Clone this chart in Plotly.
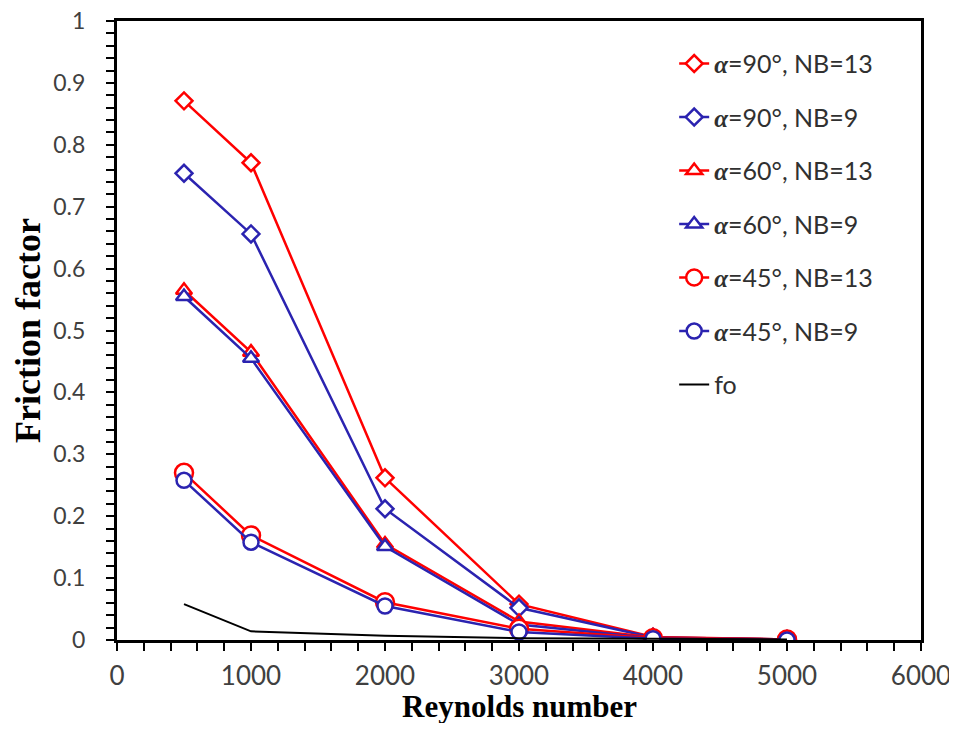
import plotly.graph_objects as go

reynolds = [500, 1000, 2000, 3000, 4000, 5000]

f_90_13 = [0.871, 0.771, 0.262, 0.058, 0.005, 0.001]
f_90_9 = [0.754, 0.656, 0.212, 0.052, 0.004, 0.001]
f_60_13 = [0.565, 0.465, 0.155, 0.030, 0.004, 0.001]
f_60_9 = [0.555, 0.455, 0.151, 0.025, 0.003, 0.001]
f_45_13 = [0.270, 0.169, 0.061, 0.018, 0.003, 0.001]
f_45_9 = [0.258, 0.158, 0.055, 0.013, 0.002, 0.000]
f_o = [0.058, 0.014, 0.007, 0.003, 0.002, 0.001]

names = [
    "=90°, NB=13", "=90°, NB=9", "=60°, NB=13",
    "=60°, NB=9", "=45°, NB=13", "=45°, NB=9",
]
x_title = "Reynolds number"
y_title = "Friction factor"

RED = "#ff0000"
BLUE = "#2b23b0"
ALPHA = "<span style=\"font-family:'Liberation Serif'\"><b><i>α</i></b></span>"

series = [
    (f_90_13, names[0], RED, "diamond", 13),
    (f_90_9, names[1], BLUE, "diamond", 13),
    (f_60_13, names[2], RED, "triangle-up", 14),
    (f_60_9, names[3], BLUE, "triangle-up", 14),
    (f_45_13, names[4], RED, "circle", 18),
    (f_45_9, names[5], BLUE, "circle", 15),
]

fig = go.Figure()
for i, (vals, nm, col, sym, sz) in enumerate(series):
    fig.add_trace(go.Scatter(
        x=reynolds, y=vals, mode="lines+markers",
        name=ALPHA + nm, legendgroup=f"g{i}",
        line=dict(color=col, width=2.5),
        marker=dict(symbol=sym, size=sz, color="white",
                    line=dict(color=col, width=2.5)),
    ))

fig.add_trace(go.Scatter(
    x=reynolds, y=f_o, mode="lines", name="fo", legendgroup="g6",
    line=dict(color="black", width=2),
))

xtick_font = dict(family="Lato, Open Sans, sans-serif", size=26, color="#404040")
ytick_font = dict(family="Lato, Open Sans, sans-serif", size=23, color="#404040")
xtitle_font = dict(family="Liberation Serif, Times New Roman, serif", size=31, color="black")
ytitle_font = dict(family="Liberation Serif, Times New Roman, serif", size=36, color="black")

fig.update_layout(
    width=941, height=715,
    margin=dict(l=109, r=28, t=13, b=83, autoexpand=False),
    plot_bgcolor="white", paper_bgcolor="white",
    showlegend=True,
    legend=dict(
        x=0.693, y=0.968, xanchor="left", yanchor="top",
        font=dict(family="Lato, Open Sans, sans-serif", size=25, color="#303030"),
        tracegroupgap=18, bgcolor="rgba(0,0,0,0)",
    ),
    xaxis=dict(
        range=[0, 6000], dtick=1000, tick0=0,
        showline=True, linecolor="black", linewidth=3, mirror=True,
        ticks="outside", ticklen=8, tickwidth=2, tickcolor="black",
        minor=dict(dtick=200, ticks="outside", ticklen=8, tickwidth=2, tickcolor="black"),
        showgrid=False, zeroline=False,
        tickfont=xtick_font, ticklabelstandoff=3, ticklabeloverflow="allow",
    ),
    yaxis=dict(
        range=[0, 1], dtick=0.1, tick0=0,
        showline=True, linecolor="black", linewidth=3, mirror=True,
        ticks="outside", ticklen=8, tickwidth=2, tickcolor="black",
        minor=dict(dtick=0.02, ticks="outside", ticklen=8, tickwidth=2, tickcolor="black"),
        showgrid=False, zeroline=False,
        tickfont=ytick_font, ticklabelstandoff=16, ticklabeloverflow="allow",
        title=dict(text="<b>" + y_title + "</b>", font=ytitle_font, standoff=4),
    ),
    annotations=[dict(
        text="<b>" + x_title + "</b>", xref="paper", yref="paper",
        x=0.5, y=-0.108, xanchor="center", yanchor="middle",
        showarrow=False, font=xtitle_font,
    )],
)

fig.write_html("out.html")
